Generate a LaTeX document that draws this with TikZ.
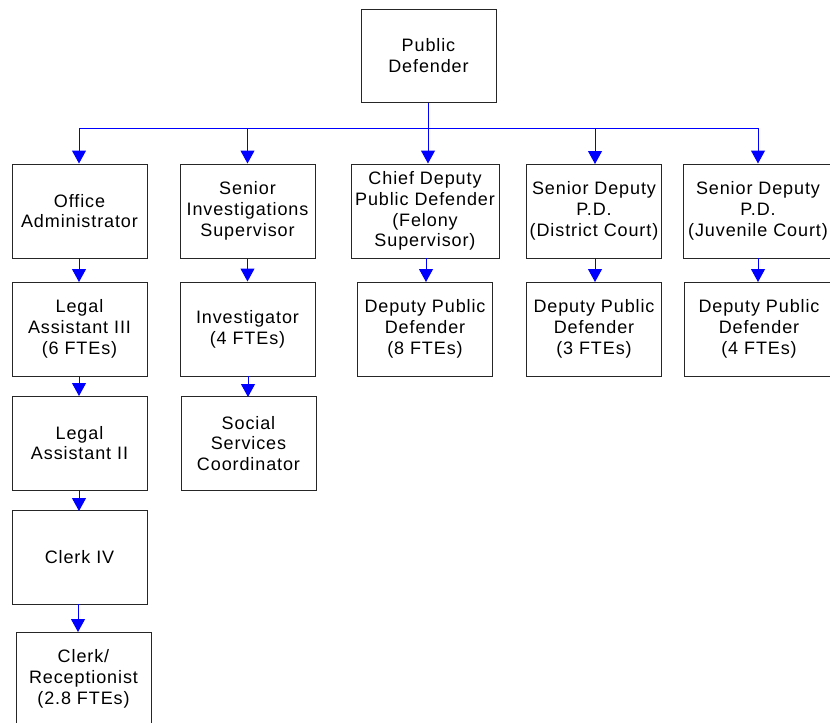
\documentclass[tikz,border=0pt]{standalone}
\usepackage{fontspec}
\setmainfont[LetterSpace=5]{Liberation Sans}
\usetikzlibrary{arrows.meta}
\newcommand{\boxfont}{\fontsize{13.5}{15.6}\selectfont}
\begin{document}
\begin{tikzpicture}[x=0.75pt,y=-0.75pt,
  box/.style={draw=black!85, line width=0.75pt, minimum width=101.25pt,
    minimum height=70.5pt, inner sep=0pt, align=center, font=\boxfont},
  conn/.style={draw={rgb,255:red,0;green,0;blue,255}, line width=0.75pt},
  arr/.style={conn, -{Triangle[width=10.5pt,length=9.75pt]}}]
\useasboundingbox (0,0) rectangle (830,722);
\clip (0,0) rectangle (830,722);
\fill[white] (0,0) rectangle (830,722);
% top
\node[box, minimum height=69.75pt] (pd) at (428.5,55.5) {Public\\Defender};
% row 1
\node[box] (oa) at (79.5,211) {Office\\Administrator};
\node[box] (si) at (247.5,211) {Senior\\Investigations\\Supervisor};
\node[box, minimum width=111pt] (cd) at (425,211) {Chief Deputy\\Public Defender\\(Felony\\Supervisor)};
\node[box] (sdd) at (594,211) {Senior Deputy\\P.D.\\(District Court)};
\node[box, minimum width=112.5pt] (sdj) at (758,211) {Senior Deputy\\P.D.\\(Juvenile Court)};
% row 2
\node[box] (la3) at (79.5,329) {Legal\\Assistant III\\(6 FTEs)};
\node[box] (inv) at (247.5,329) {Investigator\\(4 FTEs)};
\node[box] (dp8) at (425,329) {Deputy Public\\Defender\\(8 FTEs)};
\node[box] (dp3) at (594,329) {Deputy Public\\Defender\\(3 FTEs)};
\node[box, minimum width=112.5pt] (dp4) at (759,329) {Deputy Public\\Defender\\(4 FTEs)};
% row 3+
\node[box] (la2) at (79.5,443) {Legal\\Assistant II};
\node[box] (ssc) at (248.5,443.5) {Social\\Services\\Coordinator};
\node[box] (c4) at (79.5,557.5) {Clerk IV};
\node[box] (cr) at (83.5,679) {Clerk/\\Receptionist\\(2.8 FTEs)};
% bus
\coordinate (bus) at (428,128);
\coordinate (busl) at (79,128);
\coordinate (busr) at (758,128);
\draw[conn] (pd.south -| bus) -- (bus);
\draw[conn] (busl) -- (busr);
\draw[arr] (busl) -- (busl |- oa.north);
\draw[arr] (bus -| si.north) -- (si.north);
\draw[arr] (bus) -- (bus |- cd.north);
\draw[arr] (595,128) -- (595,164);
\draw[arr] (busr) -- (busr |- sdj.north);
% vertical chains
\draw[arr] (79,258) -- (79,282);
\draw[arr] (si.south) -- (inv.north);
\draw[arr] (426,258) -- (426,282);
\draw[arr] (595,258) -- (595,282);
\draw[arr] (758,258) -- (758,282);
\draw[arr] (79,376) -- (79,396);
\draw[arr] (248,376) -- (248,397);
\draw[arr] (79,490) -- (79,511);
\draw[arr] (78,604) -- (78,632);
\end{tikzpicture}
\end{document}
